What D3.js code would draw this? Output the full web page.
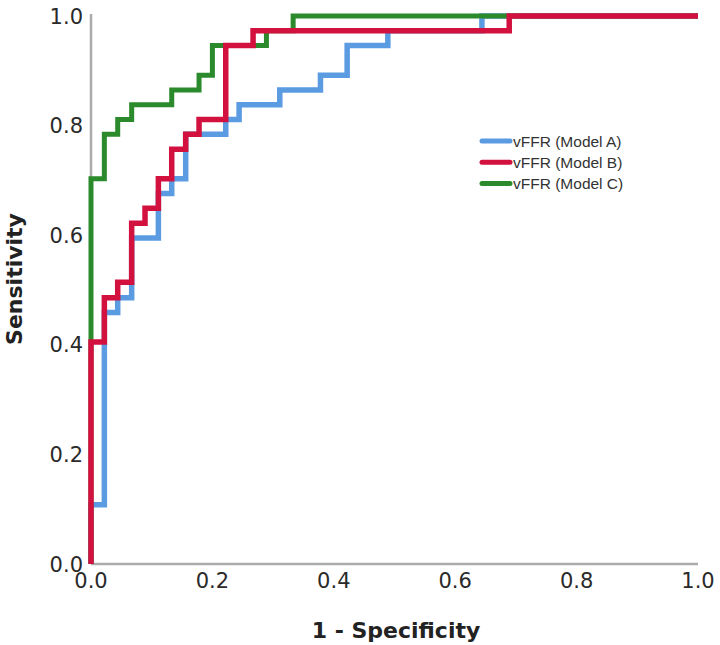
<!DOCTYPE html>
<html>
<head>
<meta charset="utf-8">
<script src="https://cdn.jsdelivr.net/npm/d3@7/dist/d3.min.js"></script>
<style>
  html, body { margin: 0; padding: 0; background: #fff; }
  svg { display: block; }
</style>
</head>
<body>
<svg id="chart" width="720" height="645"></svg>
<script>
// ROC corner points (1 - specificity, sensitivity)
const seriesNames = ["vFFR (Model A)", "vFFR (Model B)", "vFFR (Model C)"];
const modelA_fpr  = [0, 0,     0.022, 0.044, 0.067, 0.111, 0.133, 0.156, 0.222, 0.244, 0.311, 0.378, 0.422, 0.489, 0.644, 1];
const modelA_sens = [0, 0.108, 0.459, 0.486, 0.595, 0.676, 0.703, 0.784, 0.811, 0.838, 0.865, 0.892, 0.946, 0.973, 1.000, 1];
const modelB_fpr  = [0, 0,     0.022, 0.044, 0.067, 0.089, 0.111, 0.133, 0.156, 0.178, 0.222, 0.267, 0.689, 1];
const modelB_sens = [0, 0.405, 0.486, 0.514, 0.622, 0.649, 0.703, 0.757, 0.784, 0.811, 0.946, 0.973, 1.000, 1];
const modelC_fpr  = [0, 0,     0.022, 0.044, 0.067, 0.133, 0.178, 0.200, 0.289, 0.333, 1];
const modelC_sens = [0, 0.703, 0.784, 0.811, 0.838, 0.865, 0.892, 0.946, 0.973, 1.000, 1];
const xTicks = [0, 0.2, 0.4, 0.6, 0.8, 1.0];
const yTicks = [0, 0.2, 0.4, 0.6, 0.8, 1.0];
const colors = ["#5b9be2", "#d2113f", "#2b8a2b"];

const svg = d3.select("#chart");
const x = d3.scaleLinear().domain([0, 1]).range([91, 698]);
const y = d3.scaleLinear().domain([0, 1]).range([564, 16]);

// axis lines
svg.append("line").attr("x1", x(0)).attr("x2", x(1)).attr("y1", y(0)).attr("y2", y(0))
  .attr("stroke", "#ababab").attr("stroke-width", 2.5);
svg.append("line").attr("x1", x(0)).attr("x2", x(0)).attr("y1", y(0)).attr("y2", 14)
  .attr("stroke", "#ababab").attr("stroke-width", 2.5);

// tick labels
svg.append("g").selectAll("text").data(xTicks).join("text")
  .attr("x", d => x(d)).attr("y", 588)
  .attr("text-anchor", "middle")
  .attr("font-family", "DejaVu Sans, sans-serif").attr("font-size", 21)
  .attr("fill", "#2a2a2a")
  .text(d => d.toFixed(1));
svg.append("g").selectAll("text").data(yTicks).join("text")
  .attr("x", 83).attr("y", d => y(d)).attr("dy", "0.36em")
  .attr("text-anchor", "end")
  .attr("font-family", "DejaVu Sans, sans-serif").attr("font-size", 21)
  .attr("fill", "#2a2a2a")
  .text(d => d.toFixed(1));

// axis titles
svg.append("text").attr("x", 396).attr("y", 638).attr("text-anchor", "middle")
  .attr("font-family", "DejaVu Sans, sans-serif").attr("font-size", 22).attr("font-weight", "bold")
  .attr("fill", "#222").text("1 - Specificity");
svg.append("text").attr("transform", "translate(22,279) rotate(-90)").attr("text-anchor", "middle")
  .attr("font-family", "DejaVu Sans, sans-serif").attr("font-size", 22).attr("font-weight", "bold")
  .attr("fill", "#222").text("Sensitivity");

// curves
const series = [
  { fpr: modelA_fpr, sens: modelA_sens, color: colors[0], w: 5.5 },
  { fpr: modelB_fpr, sens: modelB_sens, color: colors[1], w: 5.5 },
  { fpr: modelC_fpr, sens: modelC_sens, color: colors[2], w: 5 }
];
const line = d3.line().x(d => x(d[0])).y(d => y(d[1])).curve(d3.curveStepAfter);
const drawOrder = [0, 2, 1];
drawOrder.forEach(i => {
  const s = series[i];
  svg.append("path")
    .datum(s.fpr.map((f, k) => [f, s.sens[k]]))
    .attr("d", line)
    .attr("fill", "none")
    .attr("stroke", s.color)
    .attr("stroke-width", s.w)
    .attr("stroke-linejoin", "miter");
});

// legend
const lg = svg.append("g");
seriesNames.forEach((name, i) => {
  const ly = 141 + i * 21.3;
  lg.append("line").attr("x1", 482).attr("x2", 510).attr("y1", ly).attr("y2", ly)
    .attr("stroke", colors[i]).attr("stroke-width", 5).attr("stroke-linecap", "round");
  lg.append("text").attr("x", 513).attr("y", ly).attr("dy", "0.36em")
    .attr("font-family", "Liberation Sans, Arial, sans-serif").attr("font-size", 15.5)
    .attr("fill", "#333").text(name);
});
</script>
</body>
</html>
